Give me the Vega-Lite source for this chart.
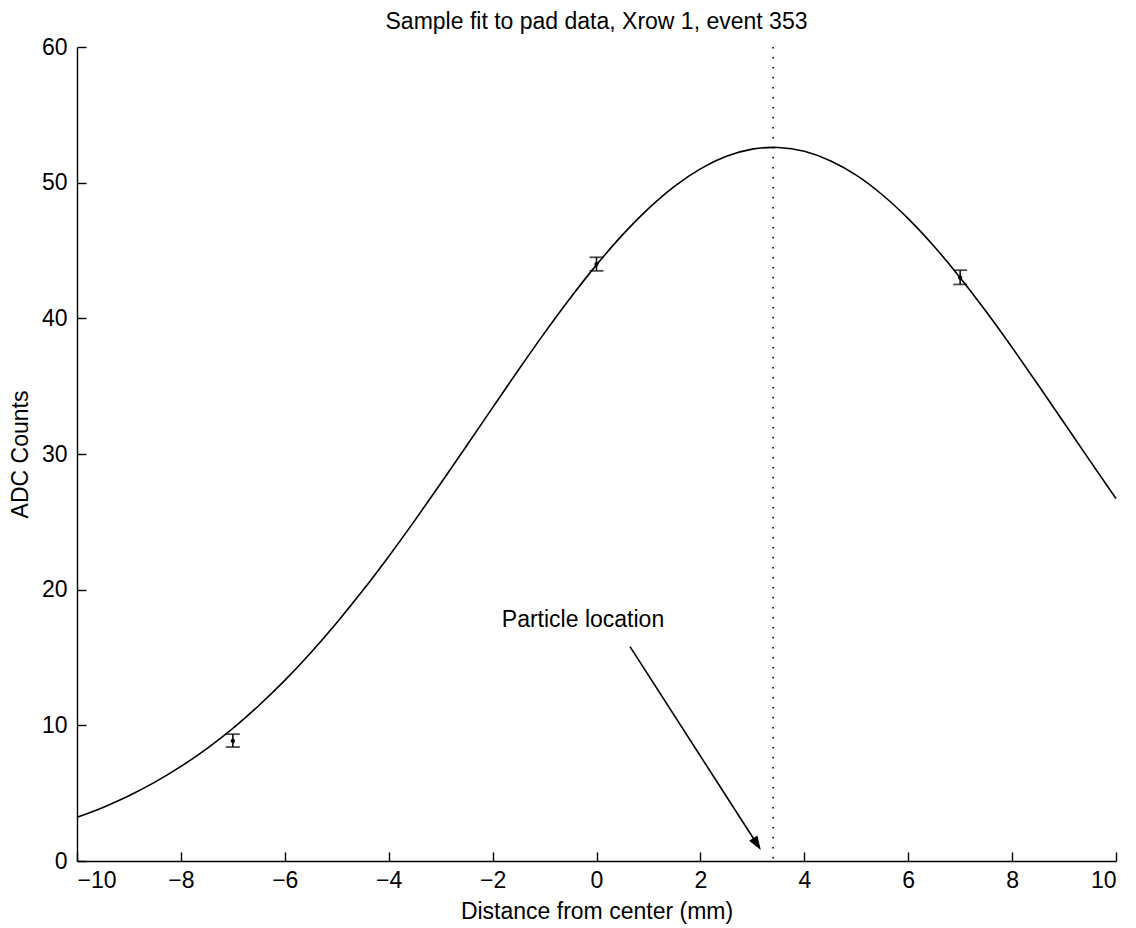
{
  "$schema": "https://vega.github.io/schema/vega-lite/v6.json",
  "width": 1039,
  "height": 814,
  "autosize": "none",
  "padding": {"left": 77, "top": 47, "right": 20, "bottom": 67},
  "background": "white",
  "config": {
    "view": {"stroke": null},
    "font": "Liberation Sans",
    "axis": {
      "grid": false,
      "domainColor": "black",
      "domainWidth": 1.4,
      "tickColor": "black",
      "tickWidth": 1.4,
      "tickSize": -9,
      "labelFont": "Liberation Sans",
      "labelFontSize": 23,
      "labelColor": "black",
      "titleFont": "Liberation Sans",
      "titleFontSize": 23,
      "titleFontWeight": "normal",
      "titleColor": "black"
    }
  },
  "title": {
    "text": "Sample fit to pad data, Xrow 1, event 353",
    "font": "Liberation Sans",
    "fontSize": 23,
    "fontWeight": "normal",
    "color": "black",
    "anchor": "middle",
    "baseline": "alphabetic",
    "offset": -16
  },
  "datasets": {
    "fit": [
      {"x": -10, "y": 3.22}, {"x": -9.5, "y": 3.95}, {"x": -9, "y": 4.81}, {"x": -8.5, "y": 5.81},
      {"x": -8, "y": 6.97}, {"x": -7.5, "y": 8.29}, {"x": -7, "y": 9.78}, {"x": -6.5, "y": 11.46},
      {"x": -6, "y": 13.31}, {"x": -5.5, "y": 15.35}, {"x": -5, "y": 17.56}, {"x": -4.5, "y": 19.93},
      {"x": -4, "y": 22.45}, {"x": -3.5, "y": 25.09}, {"x": -3, "y": 27.82}, {"x": -2.5, "y": 30.61},
      {"x": -2, "y": 33.42}, {"x": -1.5, "y": 36.21}, {"x": -1, "y": 38.93}, {"x": -0.5, "y": 41.52},
      {"x": 0, "y": 43.94}, {"x": 0.5, "y": 46.15}, {"x": 1, "y": 48.09}, {"x": 1.5, "y": 49.73},
      {"x": 2, "y": 51.02}, {"x": 2.5, "y": 51.94}, {"x": 3, "y": 52.47}, {"x": 3.4, "y": 52.6},
      {"x": 3.5, "y": 52.59}, {"x": 4, "y": 52.31}, {"x": 4.5, "y": 51.62}, {"x": 5, "y": 50.55},
      {"x": 5.5, "y": 49.11}, {"x": 6, "y": 47.35}, {"x": 6.5, "y": 45.3}, {"x": 7, "y": 43.0},
      {"x": 7.5, "y": 40.5}, {"x": 8, "y": 37.85}, {"x": 8.5, "y": 35.1}, {"x": 9, "y": 32.3},
      {"x": 9.5, "y": 29.49}, {"x": 10, "y": 26.72}
    ],
    "pts": [
      {"x": -7, "y": 8.85, "lo": 8.4, "hi": 9.35},
      {"x": 0, "y": 44.0, "lo": 43.5, "hi": 44.5},
      {"x": 7, "y": 43.0, "lo": 42.5, "hi": 43.55}
    ],
    "loc": [{"x": 3.4}],
    "arrow": [{"x": 0.645, "y": 15.8, "x2": 3.09, "y2": 1.25}],
    "head": [{"x": 3.09, "y": 1.25}],
    "label": [{"x": -0.26, "y": 17.8, "text": "Particle location"}]
  },
  "layer": [
    {
      "data": {"name": "fit"},
      "mark": {"type": "line", "color": "black", "strokeWidth": 1.6, "interpolate": "monotone"},
      "encoding": {
        "x": {
          "field": "x", "type": "quantitative",
          "scale": {"domain": [-10, 10], "nice": false},
          "axis": {"values": [-10, -8, -6, -4, -2, 0, 2, 4, 6, 8, 10], "title": "Distance from center (mm)", "labelPadding": 17, "titlePadding": 8}
        },
        "y": {
          "field": "y", "type": "quantitative",
          "scale": {"domain": [0, 60], "nice": false},
          "axis": {"values": [0, 10, 20, 30, 40, 50, 60], "title": "ADC Counts", "labelPadding": 19, "titlePadding": 9}
        }
      }
    },
    {
      "data": {"name": "loc"},
      "mark": {"type": "rule", "color": "black", "strokeWidth": 1.6, "strokeDash": [1.5, 8.5]},
      "encoding": {"x": {"field": "x", "type": "quantitative"}}
    },
    {
      "data": {"name": "pts"},
      "mark": {"type": "rule", "color": "black", "strokeWidth": 1.5},
      "encoding": {
        "x": {"field": "x", "type": "quantitative"},
        "y": {"field": "lo", "type": "quantitative"},
        "y2": {"field": "hi"}
      }
    },
    {
      "data": {"name": "pts"},
      "mark": {"type": "tick", "color": "black", "orient": "horizontal", "size": 14, "thickness": 1.8},
      "encoding": {
        "x": {"field": "x", "type": "quantitative"},
        "y": {"field": "lo", "type": "quantitative"}
      }
    },
    {
      "data": {"name": "pts"},
      "mark": {"type": "tick", "color": "black", "orient": "horizontal", "size": 14, "thickness": 1.8},
      "encoding": {
        "x": {"field": "x", "type": "quantitative"},
        "y": {"field": "hi", "type": "quantitative"}
      }
    },
    {
      "data": {"name": "pts"},
      "mark": {"type": "point", "filled": true, "color": "black", "size": 18, "opacity": 1},
      "encoding": {
        "x": {"field": "x", "type": "quantitative"},
        "y": {"field": "y", "type": "quantitative"}
      }
    },
    {
      "data": {"name": "arrow"},
      "mark": {"type": "rule", "color": "black", "strokeWidth": 1.6},
      "encoding": {
        "x": {"field": "x", "type": "quantitative"},
        "y": {"field": "y", "type": "quantitative"},
        "x2": {"field": "x2"},
        "y2": {"field": "y2"}
      }
    },
    {
      "data": {"name": "head"},
      "mark": {"type": "point", "filled": true, "color": "black", "opacity": 1, "size": 196, "angle": -32.5, "shape": "M0,1L-0.7,-1L0.7,-1Z"},
      "encoding": {
        "x": {"field": "x", "type": "quantitative"},
        "y": {"field": "y", "type": "quantitative"}
      }
    },
    {
      "data": {"name": "label"},
      "mark": {"type": "text", "font": "Liberation Sans", "fontSize": 23, "color": "black", "align": "center", "baseline": "middle"},
      "encoding": {
        "x": {"field": "x", "type": "quantitative"},
        "y": {"field": "y", "type": "quantitative"},
        "text": {"field": "text"}
      }
    }
  ]
}
